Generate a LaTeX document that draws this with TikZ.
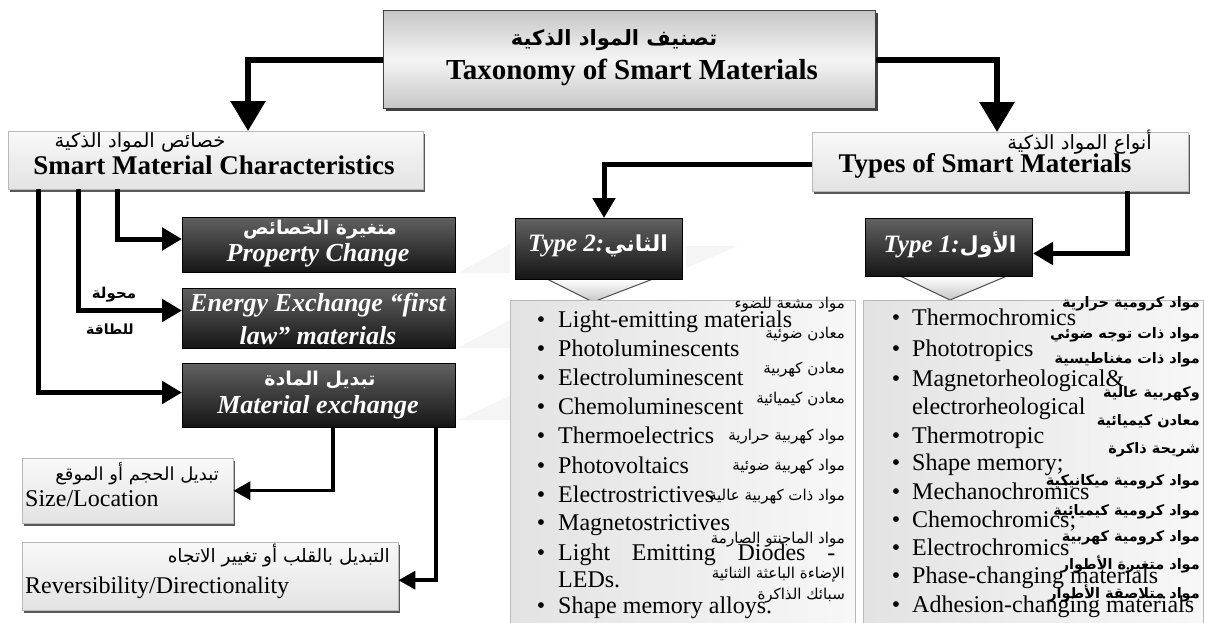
\documentclass[tikz,border=0pt]{standalone}
\usepackage{fontspec}
\setmainfont{Liberation Serif}
\newfontfamily\arabicfont[Script=Arabic]{DejaVu Sans}
\TeXXeTstate=1
\usetikzlibrary{arrows.meta,calc,shadows}
\newcommand{\AR}[1]{\beginR #1\endR}
\tikzset{
  box/.style={inner sep=0pt, anchor=north west},
  titlebox/.style={box, draw=black!75, line width=1pt, top color=gray!45, bottom color=gray!45, middle color=gray!8,
     drop shadow={shadow xshift=2pt, shadow yshift=-2.5pt, fill=black!75, opacity=1}},
  headbox/.style={box, draw=gray!55, top color=gray!5, bottom color=gray!22,
     drop shadow={shadow xshift=2pt, shadow yshift=-3pt, fill=black!65, opacity=1}},
  listbox/.style={box, draw=gray!55, line width=1pt, left color=gray!22, right color=gray!6},
  darkbox/.style={box, draw=black, line width=1pt, top color=black!62, bottom color=black!92},
  txt/.style={inner sep=0pt},
  entxt/.style={txt, font=\fontsize{24}{28}\selectfont},
  arlist/.style={txt, anchor=base east, font=\arabicfont\fontsize{15}{18}\selectfont},
  arlistb/.style={txt, anchor=base east, font=\arabicfont\bfseries\fontsize{14.5}{18}\selectfont},
  darktxt/.style={txt, text=white, font=\bfseries\itshape\fontsize{26}{31}\selectfont, align=center},
  darkar/.style={txt, text=white, font=\arabicfont\bfseries\fontsize{19}{22}\selectfont},
  bigconn/.style={line width=6pt, -{Triangle[length=30pt,width=34pt]}},
  conn/.style={line width=5pt, -{Triangle[length=20pt,width=22pt]}},
  thinconn/.style={line width=3.5pt, -{Triangle[length=17pt,width=18pt]}},
  chev/.style={draw=black!70, line width=1pt, top color=white, bottom color=gray!45},
  wedge/.style={fill=gray!8},
}
\begin{document}
\begin{tikzpicture}[x=1pt,y=-1pt]
\useasboundingbox (0,0) rectangle (1206,622);
\clip (0,0) rectangle (1206,622);
\fill[white] (0,0) rectangle (1206,622);

% faint background wedges
\fill[wedge] (458,273) -- (510,244) -- (510,273) -- cycle;
\fill[wedge] (458,348) -- (510,320) -- (510,348) -- cycle;
\fill[wedge] (458,420) -- (510,396) -- (510,420) -- cycle;
\fill[wedge] (686,268) -- (738,246) -- (686,246) -- cycle;

% title
\node[titlebox, minimum width=492pt, minimum height=98pt] (title) at (383,10) {};
\node[txt, font=\arabicfont\bfseries\fontsize{21}{24}\selectfont] (titleAr) at (614,40) {\AR{تصنيف المواد الذكية}};
\node[txt, font=\bfseries\fontsize{29}{34}\selectfont] (titleEn) at (632,72) {Taxonomy of Smart Materials};

% headers
\node[headbox, minimum width=415pt, minimum height=58pt] (lhead) at (8,131) {};
\node[txt, font=\arabicfont\fontsize{19.5}{22}\selectfont] (lheadAr) at (140,142) {\AR{خصائص المواد الذكية}};
\node[txt, font=\bfseries\fontsize{27}{32}\selectfont] (lheadEn) at (214,165) {Smart Material Characteristics};

\node[headbox, minimum width=376pt, minimum height=59pt] (rhead) at (812,132) {};
\node[txt, anchor=east, font=\arabicfont\fontsize{19.5}{22}\selectfont] (rheadAr) at (1152,142) {\AR{أنواع المواد الذكية}};
\node[txt, font=\bfseries\fontsize{27}{32}\selectfont] (rheadEn) at (985,166) {Types of Smart Materials};

% dark boxes (characteristics)
\node[darkbox, minimum width=273pt, minimum height=55pt] (pc) at (182,217) {};
\node[darkar] (pcAr) at (320,230) {\AR{متغيرة الخصائص}};
\node[darktxt] (pcEn) at (318,255) {Property Change};

\node[darkbox, minimum width=273pt, minimum height=60pt] (ee) at (182,288) {};
\node[darktxt, font=\bfseries\itshape\fontsize{26}{33}\selectfont] (eeEn) at (318,319) {Energy Exchange “first\\law” materials};

\node[darkbox, minimum width=273pt, minimum height=64pt] (me) at (182,363) {};
\node[darkar] (meAr) at (320,380) {\AR{تبديل المادة}};
\node[darktxt] (meEn) at (318,407) {Material exchange};

\node[txt, font=\arabicfont\bfseries\fontsize{15}{18}\selectfont] (eeAr1) at (114,295) {\AR{محولة}};
\node[txt, font=\arabicfont\bfseries\fontsize{14}{17}\selectfont] (eeAr2) at (110,329) {\AR{للطاقة}};

% type boxes
\path[chev] (547,279) -- (593,302) -- (653,279) -- cycle;
\path[chev] (900,276) -- (950,300) -- (1007,276) -- cycle;
\node[darkbox, minimum width=167pt, minimum height=61pt] (t2) at (515,218) {};
\node[txt, text=white] (t2txt) at (598,246) {{\bfseries\itshape\fontsize{25}{30}\selectfont Type 2:}{\arabicfont\bfseries\fontsize{22}{25}\selectfont\AR{الثاني}}};
\node[darkbox, minimum width=167pt, minimum height=58pt] (t1) at (865,218) {};
\node[txt, text=white] (t1txt) at (950,245) {{\bfseries\itshape\fontsize{25}{30}\selectfont Type 1:}{\arabicfont\bfseries\fontsize{22}{25}\selectfont\AR{الأول}}};

% list boxes
\node[listbox, minimum width=345pt, minimum height=330pt] (list2) at (510,300) {};
\node[listbox, minimum width=340pt, minimum height=330pt] (list1) at (863,300) {};

% middle list (Type 2)
\foreach \n/\y/\t in {a/327/Light-emitting materials, b/356/Photoluminescents, c/385/Electroluminescent,
   d/414/Chemoluminescent, e/443/Thermoelectrics, f/473/Photovoltaics, g/502/Electrostrictives,
   h/530/Magnetostrictives, j/613/Shape memory alloys.}{
  \node[entxt, anchor=base] (mb\n) at (541,\y) {\textbullet};
  \node[entxt, anchor=base west] (mt\n) at (558,\y) {\t};
}
\node[entxt, anchor=base] (mbi) at (541,560) {\textbullet};
\node[entxt, anchor=base west] (mti) at (558,560) {\makebox[277pt][s]{Light Emitting Diodes -}};
\node[entxt, anchor=base west] (mti2) at (558,587) {LEDs.};

\node[arlist] (ma1) at (845,308) {\AR{مواد مشعة للضوء}};
\node[arlist] (ma2) at (845,338) {\AR{معادن ضوئية}};
\node[arlist] (ma3) at (845,373) {\AR{معادن كهربية}};
\node[arlist] (ma4) at (845,403) {\AR{معادن كيميائية}};
\node[arlist] (ma5) at (845,440) {\AR{مواد كهربية حرارية}};
\node[arlist] (ma6) at (845,470) {\AR{مواد كهربية ضوئية}};
\node[arlist] (ma7) at (845,500) {\AR{مواد ذات كهربية عالية}};
\node[arlist] (ma8) at (845,543) {\AR{مواد الماجنتو الصارمة}};
\node[arlist] (ma9) at (845,578) {\AR{الإضاءة الباعثة الثنائية}};
\node[arlist] (ma10) at (845,599) {\AR{سبائك الذاكرة}};

% right list (Type 1)
\foreach \n/\y/\t in {a/325/Thermochromics, b/356/Phototropics, c/386/Magnetorheological\&,
   e/443/Thermotropic, f/470/Shape memory;, g/499/Mechanochromics, h/527/Chemochromics;,
   i/555/Electrochromics, j/583/Phase-changing materials, k/612/Adhesion-changing materials}{
  \node[entxt, anchor=base] (rb\n) at (896,\y) {\textbullet};
  \node[entxt, anchor=base west] (rt\n) at (912,\y) {\t};
}
\node[entxt, anchor=base west] (rtd) at (912,414) {electrorheological};

\node[arlistb] (ra1) at (1200,307) {\AR{مواد كرومية حرارية}};
\node[arlistb] (ra2) at (1200,338) {\AR{مواد ذات توجه ضوئي}};
\node[arlistb] (ra3) at (1200,363) {\AR{مواد ذات مغناطيسية}};
\node[arlistb] (ra4) at (1200,397) {\AR{وكهربية عالية}};
\node[arlistb] (ra5) at (1200,425) {\AR{معادن كيميائية}};
\node[arlistb] (ra6) at (1200,453) {\AR{شريحة ذاكرة}};
\node[arlistb] (ra7) at (1200,485) {\AR{مواد كرومية ميكانيكية}};
\node[arlistb] (ra8) at (1200,515) {\AR{مواد كرومية كيميائية}};
\node[arlistb] (ra9) at (1200,541) {\AR{مواد كرومية كهربية}};
\node[arlistb] (ra10) at (1200,569) {\AR{مواد متغيرة الأطوار}};
\node[arlistb] (ra11) at (1200,598) {\AR{مواد متلاصقة الأطوار}};

% bottom-left boxes
\node[headbox, minimum width=211pt, minimum height=65pt] (sl) at (22,458) {};
\node[txt, anchor=base east, font=\arabicfont\fontsize{18}{21}\selectfont] (slAr) at (219,480) {\AR{تبديل الحجم أو الموقع}};
\node[entxt, anchor=base west] (slEn) at (25,506) {Size/Location};

\node[headbox, minimum width=376pt, minimum height=68pt] (rd) at (22,542) {};
\node[txt, anchor=base east, font=\arabicfont\fontsize{18.5}{21}\selectfont] (rdAr) at (390,562) {\AR{التبديل بالقلب أو تغيير الاتجاه}};
\node[entxt, anchor=base west] (rdEn) at (25,593) {Reversibility/Directionality};

% connectors
\draw[bigconn] (title.west) -| ($(lhead.north west)+(240,0)$);
\draw[bigconn] (title.east) -| ($(rhead.north west)+(185,0)$);
\draw[conn] ($(lhead.south west)+(109,0)$) |- ($(pc.west)+(0,-6)$);
\draw[conn] ($(lhead.south west)+(70,0)$) |- ($(ee.west)+(0,-8)$);
\draw[conn] ($(lhead.south west)+(30,0)$) |- ($(me.west)+(0,-3)$);
\draw[conn] ($(rhead.west)+(0,3)$) -| ($(t2.north)+(5,0)$);
\draw[conn] ($(rhead.south west)+(315,0)$) |- ($(t1.east)+(0,6)$);
\draw[thinconn] ($(me.south west)+(151,0)$) |- (sl.east);
\draw[thinconn] ($(me.south west)+(254,0)$) |- ($(rd.east)+(0,4)$);
\end{tikzpicture}
\end{document}
